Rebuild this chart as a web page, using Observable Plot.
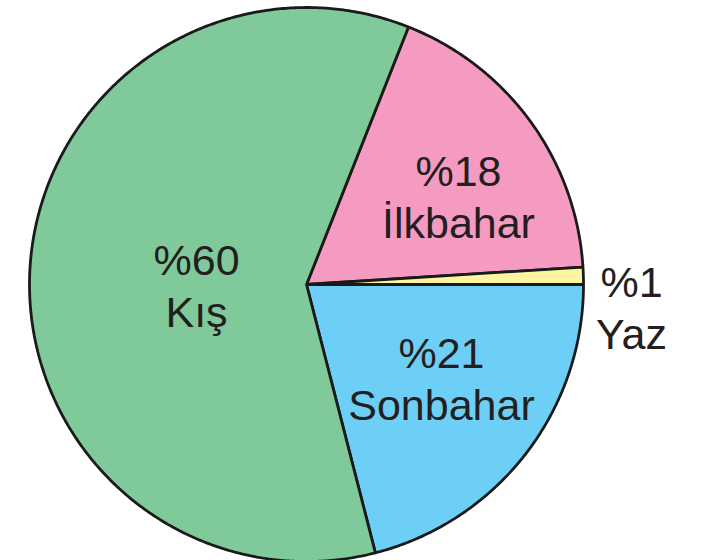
<!DOCTYPE html>
<html>
<head>
<meta charset="utf-8">
<script src="https://cdn.jsdelivr.net/npm/d3@7"></script>
<script src="https://cdn.jsdelivr.net/npm/@observablehq/plot@0.6"></script>
<style>
  html, body { margin: 0; padding: 0; background: #ffffff; }
  #chart { width: 704px; height: 560px; overflow: hidden; }
</style>
</head>
<body>
<div id="chart"></div>
<script>
// Data (clockwise order starting at the İlkbahar slice)
const seasons = ["İlkbahar", "Yaz", "Sonbahar", "Kış"];
const percents = [18, 1, 21, 60];
const colors = ["#f59bc2", "#fff59e", "#6dcff6", "#80c99b"];

// Label layout config (radius as fraction of pie radius, angle offset in degrees)
const labelRadius = [0.636, 1.176, 0.592, 0.397];
const labelAngleOffset = [5.6, 5.7, -3.2, -3.6];

const W = 704, H = 560;
const cx = 306, cy = 284, R = 277;

const data = seasons.map((s, i) => ({season: s, pct: percents[i]}));
const total = d3.sum(percents);
// İlkbahar + Yaz end exactly at 3 o'clock
const start = Math.PI / 2 - (percents[0] + percents[1]) / total * 2 * Math.PI;
const arcs = d3.pie().sort(null).value(d => d.pct)
  .startAngle(start).endAngle(start + 2 * Math.PI)(data);

// Build slice outlines in unit coordinates
const slicePts = [];
for (const a of arcs) {
  const n = Math.max(4, Math.ceil((a.endAngle - a.startAngle) / (Math.PI / 360)));
  slicePts.push({season: a.data.season, x: 0, y: 0});
  for (let k = 0; k <= n; k++) {
    const t = a.startAngle + (a.endAngle - a.startAngle) * k / n;
    slicePts.push({season: a.data.season, x: Math.sin(t), y: Math.cos(t)});
  }
}

const labels = arcs.map((a, i) => {
  const m = (a.startAngle + a.endAngle) / 2 + labelAngleOffset[i] * Math.PI / 180;
  return {
    season: a.data.season,
    text: "%" + a.data.pct + "\n" + a.data.season,
    x: labelRadius[i] * Math.sin(m),
    y: labelRadius[i] * Math.cos(m)
  };
});

const chart = Plot.plot({
  width: W,
  height: H,
  margin: 0,
  style: {background: "#ffffff", overflow: "hidden"},
  x: {domain: [-cx / R, (W - cx) / R], range: [0, W], axis: null},
  y: {domain: [-(H - cy) / R, cy / R], range: [H, 0], axis: null},
  color: {domain: seasons, range: colors},
  marks: [
    Plot.line(slicePts, {
      x: "x", y: "y", z: "season", fill: "season",
      stroke: "#1a1a1a", strokeWidth: 2.8, strokeLinejoin: "miter",
      curve: "linear-closed"
    }),
    Plot.text(labels, {
      x: "x", y: "y", text: "text",
      fontSize: 43, lineHeight: 1.2,
      fontFamily: "Liberation Sans, Arial, sans-serif",
      fill: "#231f20", textAnchor: "middle", lineAnchor: "middle"
    })
  ]
});
document.getElementById("chart").appendChild(chart);
</script>
</body>
</html>
